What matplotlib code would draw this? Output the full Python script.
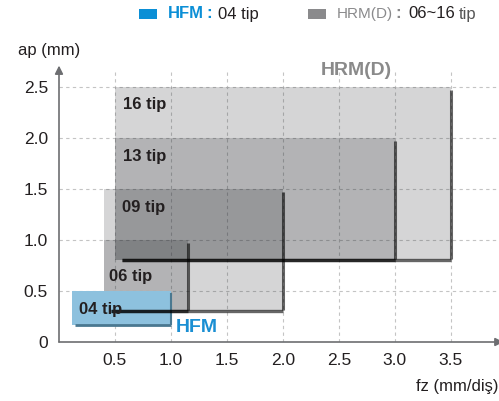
import matplotlib
matplotlib.use("Agg")
import matplotlib.pyplot as plt
from matplotlib.patches import Rectangle

plt.rcParams['font.family'] = ['Liberation Sans', 'DejaVu Sans']

# ranges of each insert: (label, fz from, fz to, ap from, ap to)
tips = ['16 tip', '13 tip', '09 tip', '06 tip', '04 tip']
fz_min = [0.5, 0.5, 0.4, 0.4, 0.12]
fz_max = [3.5, 3.0, 2.0, 1.15, 1.0]
ap_min = [0.8, 0.8, 0.3, 0.3, 0.17]
ap_max = [2.5, 2.0, 1.5, 1.0, 0.5]
label_pos = [(0.57, 2.33), (0.57, 1.82), (0.56, 1.32), (0.45, 0.64), (0.18, 0.32)]

xticks = [0.5, 1.0, 1.5, 2.0, 2.5, 3.0, 3.5]
yticks = [0, 0.5, 1.0, 1.5, 2.0, 2.5]
xtick_labels = ['0.5', '1.0', '1.5', '2.0', '2.5', '3.0', '3.5']
ytick_labels = ['0', '0.5', '1.0', '1.5', '2.0', '2.5']

fig = plt.figure(figsize=(4.99, 4.01), dpi=100)
ax = fig.add_axes([59 / 499, 59 / 401, 440 / 499, 2.75 * 102 / 401])
ax.set_xlim(0, 3.93)
ax.set_ylim(0, 2.75)
for s in ax.spines.values():
    s.set_visible(False)

# dashed grid
for x in xticks:
    ax.plot([x, x], [0, 2.68], color='#c4c4c4', lw=0.8, ls=(0, (3, 3)), zorder=1)
for y in yticks[1:]:
    ax.plot([0, 3.93], [y, y], color='#c4c4c4', lw=0.8, ls=(0, (3, 3)), zorder=1)

# boxes
for i, name in enumerate(tips):
    x0, x1, y0, y1 = fz_min[i], fz_max[i], ap_min[i], ap_max[i]
    if name == '04 tip':
        ax.add_patch(Rectangle((x0, y0), x1 - x0, y1 - y0, facecolor='#8dc1de',
                               edgecolor='none', zorder=6))
        ax.plot([x0 + 0.02, x1], [y0, y0], color='#4a7890', lw=2, zorder=6.5,
                solid_capstyle='butt')
        ax.plot([x1, x1], [y0, y1 - 0.02], color='#4a7890', lw=1.5, zorder=6.5,
                solid_capstyle='butt')
    else:
        ax.add_patch(Rectangle((x0, y0), x1 - x0, y1 - y0, facecolor='#22252a',
                               alpha=0.19, edgecolor='none', zorder=2 + i))
        ax.plot([x0 + 0.06, x1], [y0, y0], color='black', alpha=0.6, lw=2.4,
                zorder=7, solid_capstyle='butt')
        ax.plot([x1, x1], [y0 + 0.01, y1 - 0.03], color='black', alpha=0.6, lw=2.2,
                zorder=7, solid_capstyle='butt')
    lx, ly = label_pos[i]
    ax.text(lx, ly, name, fontsize=12, fontweight='bold', color='#231f20',
            ha='left', va='center', zorder=8)

ax.text(1.04, 0.14, 'HFM', fontsize=14, fontweight='bold', color='#1a8fd3',
        ha='left', va='center', zorder=8)
ax.text(2.66, 2.66, 'HRM(D)', fontsize=14, fontweight='bold', color='#8a8a8a',
        ha='center', va='center', zorder=8)

# axis lines with arrows
ax.annotate('', xy=(0, 2.71), xytext=(0, 0),
            arrowprops=dict(arrowstyle='-|>', color='#6d6e71', lw=1.2,
                            mutation_scale=12, shrinkA=0, shrinkB=0),
            annotation_clip=False)
ax.annotate('', xy=(3.97, 0), xytext=(0, 0),
            arrowprops=dict(arrowstyle='-|>', color='#6d6e71', lw=1.2,
                            mutation_scale=12, shrinkA=0, shrinkB=0),
            annotation_clip=False)

ax.set_xticks(xticks)
ax.set_xticklabels(xtick_labels)
ax.set_yticks(yticks)
ax.set_yticklabels(ytick_labels)
ax.tick_params(length=0, labelsize=12.5, labelcolor='#231f20', pad=8)

fig.text(18 / 499, 1 - 50 / 401, 'ap (mm)', fontsize=12, color='#231f20',
         ha='left', va='center')
fig.text(498 / 499, 1 - 386 / 401, 'fz (mm/diş)', fontsize=12, color='#231f20',
         ha='right', va='center')

# legend
ly = 1 - 14 / 401
fig.patches.append(Rectangle((139 / 499, 1 - 19 / 401), 18 / 499, 10 / 401,
                             facecolor='#0b8fd6', transform=fig.transFigure))
fig.text(168 / 499, ly, 'HFM', fontsize=12, fontweight='bold', color='#0b8fd6',
         va='center')
fig.text(206 / 499, ly, ':', fontsize=12, fontweight='bold', color='#0b8fd6',
         va='center')
fig.text(218 / 499, ly, '04 tip', fontsize=12, color='#231f20', va='center')
fig.patches.append(Rectangle((308 / 499, 1 - 19 / 401), 18 / 499, 10 / 401,
                             facecolor='#8a8a8c', transform=fig.transFigure))
fig.text(337 / 499, ly, 'HRM(D)', fontsize=11, color='#8a8a8c', va='center')
fig.text(395 / 499, ly, ':', fontsize=12, fontweight='bold', color='#8a8a8c',
         va='center')
fig.text(408 / 499, ly, '06~16', fontsize=12, color='#231f20', va='center')
fig.text(459 / 499, ly, 'tip', fontsize=12, color='#555555', va='center')

fig.savefig('out.png', dpi=100)
